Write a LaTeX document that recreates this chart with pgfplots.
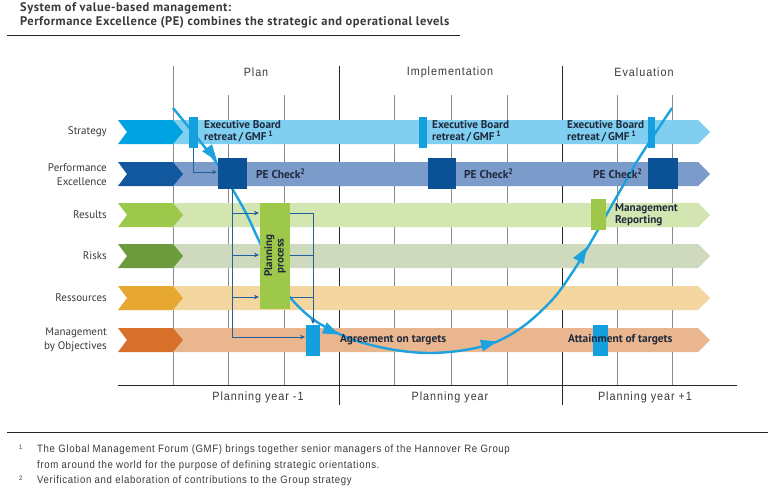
\documentclass[border=0pt]{standalone}
\usepackage{pgfplots}
\pgfplotsset{compat=1.18}
\usepackage{fontspec}
\setmainfont{PT Sans}
\newfontfamily\hdr[FakeStretch=0.9, LetterSpace=8]{Liberation Sans}
\newfontfamily\fnt[FakeStretch=0.9, LetterSpace=6]{Liberation Sans}
\newfontfamily\ttl[LetterSpace=4]{PT Sans}
\usetikzlibrary{arrows.meta}
\definecolor{strChev}{HTML}{00A3E2}
\definecolor{strBand}{HTML}{80CEF0}
\definecolor{peChev}{HTML}{12589E}
\definecolor{peBand}{HTML}{7B9CCB}
\definecolor{peBox}{HTML}{0B5196}
\definecolor{resChev}{HTML}{9CC94B}
\definecolor{resBand}{HTML}{D3E6B2}
\definecolor{planBox}{HTML}{9DC84A}
\definecolor{riskChev}{HTML}{6D9A3D}
\definecolor{riskBand}{HTML}{CFD9BE}
\definecolor{resoChev}{HTML}{E7A832}
\definecolor{resoBand}{HTML}{F4D7A0}
\definecolor{mboChev}{HTML}{D8702B}
\definecolor{mboBand}{HTML}{E9B68F}
\definecolor{markC}{HTML}{14A0DE}
\definecolor{curveC}{HTML}{1CA2DE}
\definecolor{thinC}{HTML}{24609A}
\definecolor{txt}{HTML}{1F2A3C}
\definecolor{lbl}{HTML}{3A3A3A}
\definecolor{gridC}{HTML}{8C8C8C}
\begin{document}
\begin{tikzpicture}
\begin{axis}[scale only axis, width=774pt, height=491pt,
  xmin=0, xmax=774, ymin=0, ymax=491, y dir=reverse,
  hide axis, clip=false]
% background
\addplot[fill=white, draw=none] coordinates {(0,0) (774,0) (774,491) (0,491)} -- cycle;
% title rule and footnote rule
\addplot[black!85, line width=1.1pt] coordinates {(7,35.5) (460,35.5)};
\addplot[black!85, line width=1pt] coordinates {(7,432) (768,432)};
% grid lines
\addplot[gridC, line width=0.6pt] coordinates {(173,66) (173,385)};
\addplot[gridC, line width=0.6pt] coordinates {(228,95) (228,385)};
\addplot[gridC, line width=0.6pt] coordinates {(284,95) (284,385)};
\addplot[black!85, line width=0.9pt] coordinates {(339,66) (339,405)};
\addplot[gridC, line width=0.6pt] coordinates {(394,95) (394,385)};
\addplot[gridC, line width=0.6pt] coordinates {(451,95) (451,385)};
\addplot[gridC, line width=0.6pt] coordinates {(507,95) (507,385)};
\addplot[black!85, line width=0.9pt] coordinates {(562,66) (562,405)};
\addplot[gridC, line width=0.6pt] coordinates {(617,95) (617,385)};
\addplot[gridC, line width=0.6pt] coordinates {(672,95) (672,385)};
\addplot[black!85, line width=0.9pt] coordinates {(118,385) (737,385)};
% bands
\addplot[fill=strBand, draw=none] coordinates {(173,120) (698,120) (710,132) (698,144) (173,144)} -- cycle;
\addplot[fill=peBand, draw=none] coordinates {(173,162) (698,162) (710,174) (698,186) (173,186)} -- cycle;
\addplot[fill=resBand, draw=none] coordinates {(173,203) (698,203) (710,215) (698,227) (173,227)} -- cycle;
\addplot[fill=riskBand, draw=none] coordinates {(173,244) (698,244) (710,256) (698,268) (173,268)} -- cycle;
\addplot[fill=resoBand, draw=none] coordinates {(173,286) (698,286) (710,298) (698,310) (173,310)} -- cycle;
\addplot[fill=mboBand, draw=none] coordinates {(173,328) (698,328) (710,340) (698,352) (173,352)} -- cycle;
% chevrons
\addplot[fill=strChev, draw=none] coordinates {(118,120) (173,120) (183,132) (173,144) (118,144) (127,132)} -- cycle;
\addplot[fill=peChev, draw=none] coordinates {(118,162) (173,162) (183,174) (173,186) (118,186) (127,174)} -- cycle;
\addplot[fill=resChev, draw=none] coordinates {(118,203) (173,203) (183,215) (173,227) (118,227) (127,215)} -- cycle;
\addplot[fill=riskChev, draw=none] coordinates {(118,244) (173,244) (183,256) (173,268) (118,268) (127,256)} -- cycle;
\addplot[fill=resoChev, draw=none] coordinates {(118,286) (173,286) (183,298) (173,310) (118,310) (127,298)} -- cycle;
\addplot[fill=mboChev, draw=none] coordinates {(118,328) (173,328) (183,340) (173,352) (118,352) (127,340)} -- cycle;
% big curve
\addplot[curveC, line width=2.4pt, smooth, tension=0.55] coordinates {
 (173,108) (195,135) (216,162) (233,190) (247,215) (260,243) (275,272) (289,296)
 (310,317) (333,331) (360,342) (395,350) (430,353) (465,350) (496,342) (525,325)
 (553,299) (572,273) (588,247) (604,219) (620,191) (636,163) (654,135) (672,108)};
% curve arrowheads
\addplot[fill=curveC, draw=none] coordinates {(217,161) (212,144.3) (202.2,151.3)} -- cycle;
\addplot[fill=curveC, draw=none] coordinates {(339,334.5) (321.9,333.4) (326.7,322.4)} -- cycle;
\addplot[fill=curveC, draw=none] coordinates {(497,341.5) (482.9,351.4) (480.0,339.8)} -- cycle;
\addplot[fill=curveC, draw=none] coordinates {(587,247) (583.6,263.9) (573.2,257.9)} -- cycle;
% thin arrows
\addplot[thinC, line width=0.8pt, -{Stealth[length=5pt,width=4.5pt]}] coordinates {(193.5,148) (193.5,172) (217,172)};
\addplot[thinC, line width=0.8pt, -{Stealth[length=5pt,width=4.5pt]}] coordinates {(232,189) (232,337) (305,337)};
\addplot[thinC, line width=0.8pt, -{Stealth[length=5pt,width=4.5pt]}] coordinates {(232,213) (259,213)};
\addplot[thinC, line width=0.8pt, -{Stealth[length=5pt,width=4.5pt]}] coordinates {(232,255) (259,255)};
\addplot[thinC, line width=0.8pt, -{Stealth[length=5pt,width=4.5pt]}] coordinates {(232,297) (259,297)};
\addplot[thinC, line width=0.8pt] coordinates {(290,213) (313,213)};
\addplot[thinC, line width=0.8pt] coordinates {(290,255) (313,255)};
\addplot[thinC, line width=0.8pt] coordinates {(290,297) (313,297)};
\addplot[thinC, line width=0.8pt, -{Stealth[length=5pt,width=4.5pt]}] coordinates {(313,213) (313,324)};
% markers and boxes
\addplot[fill=markC, draw=none] coordinates {(189,117) (198,117) (198,148) (189,148)} -- cycle;
\addplot[fill=markC, draw=none] coordinates {(419,117) (427,117) (427,148) (419,148)} -- cycle;
\addplot[fill=markC, draw=none] coordinates {(648,117) (655,117) (655,148) (648,148)} -- cycle;
\addplot[fill=peBox, draw=none] coordinates {(218,158) (247,158) (247,189) (218,189)} -- cycle;
\addplot[fill=peBox, draw=none] coordinates {(428,158) (456,158) (456,189) (428,189)} -- cycle;
\addplot[fill=peBox, draw=none] coordinates {(648,158) (678,158) (678,189) (648,189)} -- cycle;
\addplot[fill=planBox, draw=none] coordinates {(260,203) (290,203) (290,309) (260,309)} -- cycle;
\addplot[fill=planBox, draw=none] coordinates {(591,199) (606,199) (606,230) (591,230)} -- cycle;
\addplot[fill=markC, draw=none] coordinates {(306,325) (320,325) (320,356) (306,356)} -- cycle;
\addplot[fill=markC, draw=none] coordinates {(593,325) (608,325) (608,356) (593,356)} -- cycle;
% title
\node[anchor=west, inner sep=0pt, text=lbl, align=left, font=\ttl\bfseries\fontsize{12.5}{14.5}\selectfont] at (axis cs:20,15.5) {System of value-based management:\\Performance Excellence (PE) combines the strategic and operational levels};
% headers
\node[inner sep=0pt, text=lbl, font=\hdr\fontsize{12}{14}\selectfont] at (axis cs:256,72.5) {Plan};
\node[inner sep=0pt, text=lbl, font=\hdr\fontsize{12}{14}\selectfont] at (axis cs:450,72.5) {Implementation};
\node[inner sep=0pt, text=lbl, font=\hdr\fontsize{12}{14}\selectfont] at (axis cs:644,72.5) {Evaluation};
% row labels
\node[anchor=east, inner sep=0pt, text=lbl, align=right, font=\fontsize{11}{13.5}\selectfont] at (axis cs:107,132) {Strategy};
\node[anchor=east, inner sep=0pt, text=lbl, align=right, font=\fontsize{11}{13.5}\selectfont] at (axis cs:107,174.5) {Performance\\Excellence};
\node[anchor=east, inner sep=0pt, text=lbl, align=right, font=\fontsize{11}{13.5}\selectfont] at (axis cs:107,215) {Results};
\node[anchor=east, inner sep=0pt, text=lbl, align=right, font=\fontsize{11}{13.5}\selectfont] at (axis cs:107,256) {Risks};
\node[anchor=east, inner sep=0pt, text=lbl, align=right, font=\fontsize{11}{13.5}\selectfont] at (axis cs:107,298) {Ressources};
\node[anchor=east, inner sep=0pt, text=lbl, align=right, font=\fontsize{11}{13.5}\selectfont] at (axis cs:107,340) {Management\\by Objectives};
% in-diagram text
\node[anchor=west, inner sep=0pt, text=txt, align=left, font=\bfseries\fontsize{11.2}{12}\selectfont] at (axis cs:204,131.5) {Executive Board\\retreat\,/\,GMF\,\textsuperscript{1}};
\node[anchor=west, inner sep=0pt, text=txt, align=left, font=\bfseries\fontsize{11.2}{12}\selectfont] at (axis cs:432,131.5) {Executive Board\\retreat\,/\,GMF\,\textsuperscript{1}};
\node[anchor=west, inner sep=0pt, text=txt, align=left, font=\bfseries\fontsize{11.2}{12}\selectfont] at (axis cs:567,131.5) {Executive Board\\retreat\,/\,GMF\,\textsuperscript{1}};
\node[anchor=west, inner sep=0pt, text=txt, font=\bfseries\fontsize{11.4}{12}\selectfont] at (axis cs:256,173.5) {PE Check\textsuperscript{2}};
\node[anchor=west, inner sep=0pt, text=txt, font=\bfseries\fontsize{11.4}{12}\selectfont] at (axis cs:464,173.5) {PE Check\textsuperscript{2}};
\node[anchor=west, inner sep=0pt, text=txt, font=\bfseries\fontsize{11.4}{12}\selectfont] at (axis cs:593,173.5) {PE Check\textsuperscript{2}};
\node[anchor=west, inner sep=0pt, text=txt, align=left, font=\bfseries\fontsize{11.2}{12}\selectfont] at (axis cs:615,214.5) {Management\\Reporting};
\node[anchor=west, inner sep=0pt, text=txt, font=\bfseries\fontsize{11.4}{12}\selectfont] at (axis cs:340,340) {Agreement on targets};
\node[anchor=west, inner sep=0pt, text=txt, font=\bfseries\fontsize{11.4}{12}\selectfont] at (axis cs:568,340) {Attainment of targets};
\node[inner sep=0pt, text=txt, align=center, rotate=90, font=\bfseries\fontsize{11}{11.5}\selectfont] at (axis cs:275,256) {Planning\\process};
% bottom labels
\node[inner sep=0pt, text=lbl, font=\hdr\fontsize{12}{14}\selectfont] at (axis cs:258,397.5) {Planning year -1};
\node[inner sep=0pt, text=lbl, font=\hdr\fontsize{12}{14}\selectfont] at (axis cs:450,397.5) {Planning year};
\node[inner sep=0pt, text=lbl, font=\hdr\fontsize{12}{14}\selectfont] at (axis cs:645,397.5) {Planning year +1};
% footnotes
\node[anchor=west, inner sep=0pt, text=lbl, font=\fnt\fontsize{6.5}{8}\selectfont] at (axis cs:19,447) {1};
\node[anchor=west, inner sep=0pt, text=lbl, font=\fnt\fontsize{10.7}{12}\selectfont] at (axis cs:37,450) {The Global Management Forum (GMF) brings together senior managers of the Hannover Re Group};
\node[anchor=west, inner sep=0pt, text=lbl, font=\fnt\fontsize{10.7}{12}\selectfont] at (axis cs:37,465.5) {from around the world for the purpose of defining strategic orientations.};
\node[anchor=west, inner sep=0pt, text=lbl, font=\fnt\fontsize{6.5}{8}\selectfont] at (axis cs:19,478) {2};
\node[anchor=west, inner sep=0pt, text=lbl, font=\fnt\fontsize{10.7}{12}\selectfont] at (axis cs:37,481) {Verification and elaboration of contributions to the Group strategy};
\end{axis}
\end{tikzpicture}
\end{document}
